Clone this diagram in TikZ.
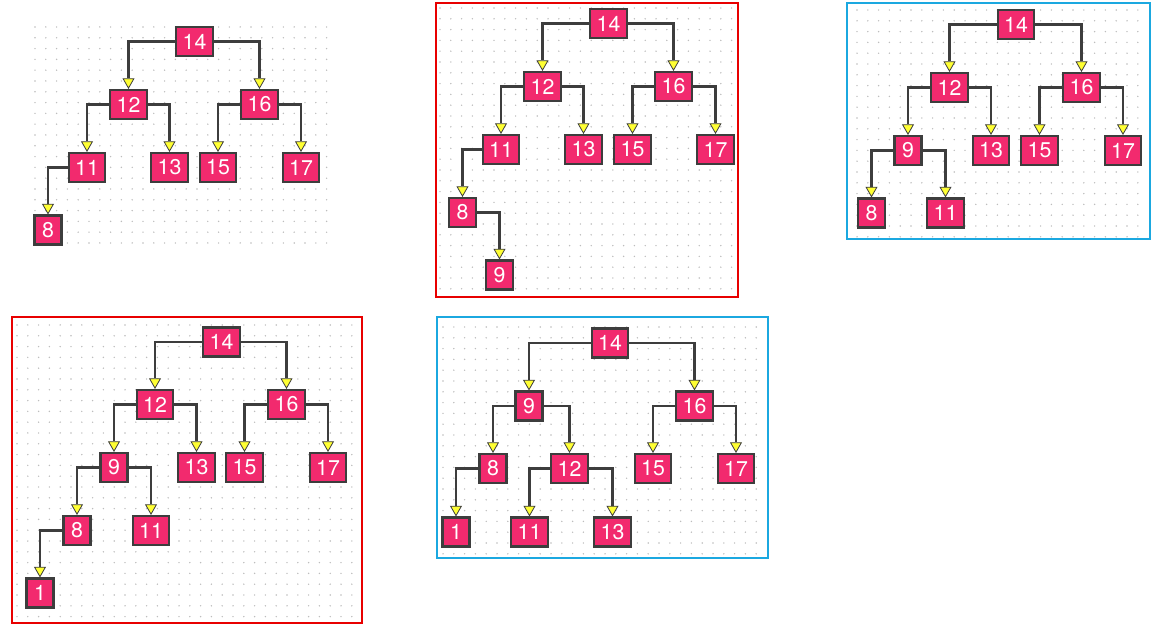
\documentclass[tikz,border=0pt]{standalone}
\usepackage{fontspec}
\setmainfont{TeX Gyre Heros}
\usepackage{xcolor}
\usetikzlibrary{arrows.meta}

\definecolor{nodepink}{HTML}{F22A6E}
\definecolor{edgegray}{HTML}{3D3D3D}
\definecolor{tipyellow}{HTML}{FFFF33}
\definecolor{framered}{HTML}{E80000}
\definecolor{frameblue}{HTML}{1BA8E0}
\definecolor{dotgray}{HTML}{BDBDBD}

\begin{document}
\begin{tikzpicture}[
  x=0.75pt, y=-0.75pt,
  box/.style={rectangle, draw=edgegray, fill=nodepink, line width=1.8pt, text=white,
    font=\fontsize{16}{17}\selectfont, minimum height=21.5pt, minimum width=20.5pt,
    inner xsep=4.8pt, inner ysep=0pt},
  link/.style={draw=edgegray, line width=1.7pt, -{Triangle[width=9pt, length=8pt, fill=tipyellow, line width=0.6pt]}},
  griddot/.style={fill=dotgray},
  frame/.style={line width=0.9pt}
]
\useasboundingbox (0,0) rectangle (1165,627);

% dotted grids
\foreach \gx/\gy/\nx/\ny in {35/27/27/20, 440/8/27/26, 857/10/26/21, 17/325/31/27, 443/327/29/21}
  \foreach \i in {0,...,\nx}
    \foreach \j in {0,...,\ny}
      \fill[griddot] (\gx+\i*10.8, \gy+\j*10.8) circle (0.6pt);

% frames
\draw[frame, framered] (436,3) rectangle (738,297);
\draw[frame, frameblue] (847,3) rectangle (1150,239);
\draw[frame, framered] (12,317) rectangle (362,623);
\draw[frame, frameblue] (437,317) rectangle (768,558);

% tree 1
\node[box] (a14) at (194.5,41.5) {14};
\node[box] (a12) at (128.5,104.5) {12};
\node[box] (a16) at (259.5,104.5) {16};
\node[box] (a11) at (87,167.5) {11};
\node[box] (a13) at (169.5,167.5) {13};
\node[box] (a15) at (218,167.5) {15};
\node[box] (a17) at (301,167.5) {17};
\node[box] (a8) at (48,230) {8};

\draw[link] (a14.west) -| (a12.north);
\draw[link] (a14.east) -| (a16.north);
\draw[link] (a12.west) -| (a11.north);
\draw[link] (a12.east) -| (a13.north);
\draw[link] (a16.west) -| (a15.north);
\draw[link] (a16.east) -| (a17.north);
\draw[link] (a11.west) -| (a8.north);

% tree 2
\node[box] (b14) at (608.5,23.5) {14};
\node[box] (b12) at (542.5,86.5) {12};
\node[box] (b16) at (673.5,86.5) {16};
\node[box] (b11) at (501,149.5) {11};
\node[box] (b13) at (583.5,149.5) {13};
\node[box] (b15) at (632.5,149.5) {15};
\node[box] (b17) at (715.5,149.5) {17};
\node[box] (b8) at (462.5,212.5) {8};
\node[box] (b9) at (499.5,275) {9};

\draw[link] (b14.west) -| (b12.north);
\draw[link] (b14.east) -| (b16.north);
\draw[link] (b12.west) -| (b11.north);
\draw[link] (b12.east) -| (b13.north);
\draw[link] (b16.west) -| (b15.north);
\draw[link] (b16.east) -| (b17.north);
\draw[link] (b11.west) -| (b8.north);
\draw[link] (b8.east) -| (b9.north);

% tree 3
\node[box] (c14) at (1016,24.5) {14};
\node[box] (c12) at (949.5,87.5) {12};
\node[box] (c16) at (1081.5,87.5) {16};
\node[box] (c9) at (908,150.5) {9};
\node[box] (c13) at (991,150.5) {13};
\node[box] (c15) at (1039.5,150.5) {15};
\node[box] (c17) at (1123,150.5) {17};
\node[box] (c8) at (871.5,213) {8};
\node[box] (c11) at (945.5,213) {11};

\draw[link] (c14.west) -| (c12.north);
\draw[link] (c14.east) -| (c16.north);
\draw[link] (c12.west) -| (c9.north);
\draw[link] (c12.east) -| (c13.north);
\draw[link] (c16.west) -| (c15.north);
\draw[link] (c16.east) -| (c17.north);
\draw[link] (c9.west) -| (c8.north);
\draw[link] (c9.east) -| (c11.north);

% tree 4
\node[box] (d14) at (221.5,342) {14};
\node[box] (d12) at (155,404.5) {12};
\node[box] (d16) at (286.5,404.5) {16};
\node[box] (d9) at (114,467.5) {9};
\node[box] (d13) at (196.5,467.5) {13};
\node[box] (d15) at (244.5,467.5) {15};
\node[box] (d17) at (328,467.5) {17};
\node[box] (d8) at (77,530.5) {8};
\node[box] (d11) at (151,530.5) {11};
\node[box] (d1) at (40,593) {1};

\draw[link] (d14.west) -| (d12.north);
\draw[link] (d14.east) -| (d16.north);
\draw[link] (d12.west) -| (d9.north);
\draw[link] (d12.east) -| (d13.north);
\draw[link] (d16.west) -| (d15.north);
\draw[link] (d16.east) -| (d17.north);
\draw[link] (d9.west) -| (d8.north);
\draw[link] (d9.east) -| (d11.north);
\draw[link] (d8.west) -| (d1.north);

% tree 5
\node[box] (e14) at (610,343) {14};
\node[box] (e9) at (529,406) {9};
\node[box] (e16) at (694.5,406) {16};
\node[box] (e8) at (493,468.5) {8};
\node[box] (e12) at (569.5,468.5) {12};
\node[box] (e15) at (653,468.5) {15};
\node[box] (e17) at (736,468.5) {17};
\node[box] (e1) at (456,532) {1};
\node[box] (e11) at (529.5,532) {11};
\node[box] (e13) at (612.5,532) {13};

\draw[link] (e14.west) -| (e9.north);
\draw[link] (e14.east) -| (e16.north);
\draw[link] (e9.west) -| (e8.north);
\draw[link] (e9.east) -| (e12.north);
\draw[link] (e16.west) -| (e15.north);
\draw[link] (e16.east) -| (e17.north);
\draw[link] (e8.west) -| (e1.north);
\draw[link] (e12.west) -| (e11.north);
\draw[link] (e12.east) -| (e13.north);

\end{tikzpicture}
\end{document}
